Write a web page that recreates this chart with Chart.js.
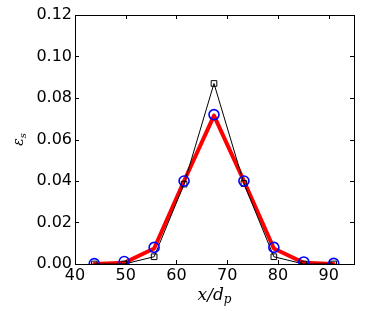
<!DOCTYPE html>
<html>
<head>
<meta charset="utf-8">
<script src="https://cdn.jsdelivr.net/npm/chart.js@4"></script>
<style>
html,body{margin:0;padding:0;background:#fff;}
#wrap{width:373px;height:311px;}
</style>
</head>
<body>
<div id="wrap"><canvas id="c" width="373" height="311"></canvas></div>
<script>
const xPositions = [43.8, 49.7, 55.6, 61.5, 67.4, 73.3, 79.2, 85.1, 91.0];
const squareValues = [0.0, 0.0, 0.0035, 0.0385, 0.087, 0.0388, 0.0035, 0.0, 0.0];
const circleValues = [0.0002, 0.0012, 0.008, 0.040, 0.072, 0.040, 0.008, 0.001, 0.0003];
const redValues = [0.0, 0.0006, 0.0075, 0.040, 0.0715, 0.040, 0.0075, 0.0006, 0.0];
const xTicks = [40, 50, 60, 70, 80, 90];
const yTicks = [0.00, 0.02, 0.04, 0.06, 0.08, 0.10, 0.12];
const xLabel = ['x/d', 'p'];
const yLabel = ['\u03b5', 's'];

const toPts = vals => vals.map((v, i) => ({x: xPositions[i], y: v}));

const framePlugin = {
  id: 'frame',
  afterDraw(chart) {
    const ctx = chart.ctx, a = chart.chartArea;
    const xs = chart.scales.x, ys = chart.scales.y;
    ctx.save();
    ctx.strokeStyle = '#000';
    ctx.lineWidth = 1;
    ctx.strokeRect(Math.round(a.left) + 0.5, Math.round(a.top) + 0.5,
                   Math.round(a.right - a.left), Math.round(a.bottom - a.top));
    const L = 4;
    ctx.beginPath();
    xTicks.forEach(v => {
      const px = Math.round(xs.getPixelForValue(v)) + 0.5;
      ctx.moveTo(px, a.bottom); ctx.lineTo(px, a.bottom - L);
      ctx.moveTo(px, a.top); ctx.lineTo(px, a.top + L);
    });
    yTicks.forEach(v => {
      const py = Math.round(ys.getPixelForValue(v)) + 0.5;
      ctx.moveTo(a.left, py); ctx.lineTo(a.left + L, py);
      ctx.moveTo(a.right, py); ctx.lineTo(a.right - L, py);
    });
    ctx.stroke();
    // x axis title
    ctx.fillStyle = '#000';
    ctx.textBaseline = 'alphabetic';
    ctx.font = 'italic 17px "DejaVu Serif"';
    const w1 = ctx.measureText(xLabel[0]).width;
    ctx.font = 'italic 12px "DejaVu Serif"';
    const w2 = ctx.measureText(xLabel[1]).width;
    const cx = (a.left + a.right) / 2;
    let sx = cx - (w1 + w2) / 2;
    ctx.font = 'italic 17px "DejaVu Serif"';
    ctx.fillText(xLabel[0], sx, 300);
    ctx.font = 'italic 12px "DejaVu Serif"';
    ctx.fillText(xLabel[1], sx + w1, 303);
    // y axis title
    ctx.save();
    ctx.translate(23, (a.top + a.bottom) / 2);
    ctx.rotate(-Math.PI / 2);
    ctx.font = 'italic 14px "DejaVu Serif"';
    const e1 = ctx.measureText(yLabel[0]).width;
    ctx.font = 'italic 10px "DejaVu Serif"';
    const e2 = ctx.measureText(yLabel[1]).width;
    const s0 = -(e1 + e2) / 2;
    ctx.font = 'italic 14px "DejaVu Serif"';
    ctx.fillText(yLabel[0], s0, 0);
    ctx.font = 'italic 10px "DejaVu Serif"';
    ctx.fillText(yLabel[1], s0 + e1, 3);
    ctx.restore();
    ctx.restore();
  }
};

new Chart(document.getElementById('c'), {
  type: 'line',
  data: {
    datasets: [
      {
        data: toPts(circleValues),
        showLine: false,
        pointStyle: 'circle',
        pointRadius: 5,
        pointBorderWidth: 1.6,
        pointBorderColor: '#0000ff',
        pointBackgroundColor: 'rgba(0,0,0,0)',
        order: 0
      },
      {
        data: toPts(squareValues),
        borderColor: '#000',
        borderWidth: 1,
        pointStyle: 'rect',
        pointRadius: 4,
        pointBorderWidth: 1,
        pointBorderColor: '#000',
        pointBackgroundColor: 'rgba(0,0,0,0)',
        tension: 0,
        order: 1
      },
      {
        data: toPts(redValues),
        borderColor: '#ff0000',
        borderWidth: 4,
        pointRadius: 0,
        tension: 0,
        borderJoinStyle: 'round',
        borderCapStyle: 'round',
        order: 2
      }
    ]
  },
  options: {
    responsive: false,
    animation: false,
    layout: {padding: {left: 0, right: 19, top: 15, bottom: 0}},
    plugins: {legend: {display: false}, tooltip: {enabled: false}},
    scales: {
      x: {
        type: 'linear', min: 40, max: 95,
        grid: {display: false, drawTicks: false}, border: {display: false},
        afterBuildTicks: s => { s.ticks = xTicks.map(v => ({value: v})); },
        afterFit: s => { s.height = 47; },
        ticks: {font: {family: 'DejaVu Sans', size: 16}, color: '#000', padding: 2, maxRotation: 0,
                callback: v => String(v)}
      },
      y: {
        type: 'linear', min: 0, max: 0.12,
        grid: {display: false, drawTicks: false}, border: {display: false},
        afterBuildTicks: s => { s.ticks = yTicks.map(v => ({value: v})); },
        afterFit: s => { s.width = 75; },
        ticks: {font: {family: 'DejaVu Sans', size: 16}, color: '#000', padding: 3,
                callback: v => Number(v).toFixed(2)}
      }
    }
  },
  plugins: [framePlugin]
});
</script>
</body>
</html>
